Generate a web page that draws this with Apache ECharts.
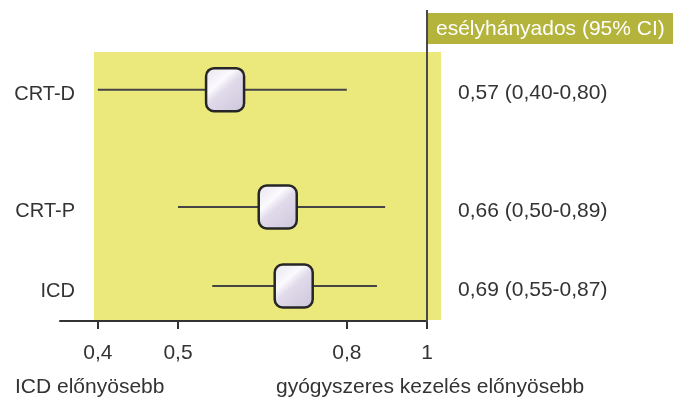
<!DOCTYPE html>
<html>
<head>
<meta charset="utf-8">
<script src="https://cdn.jsdelivr.net/npm/echarts@6/dist/echarts.min.js"></script>
<style>
  html, body { margin: 0; padding: 0; background: #ffffff; }
  #chart { width: 673px; height: 401px; }
</style>
</head>
<body>
<div id="chart"></div>
<script>
// Forest plot: odds ratios with 95% confidence intervals (log scale)
const categories = ['CRT-D', 'CRT-P', 'ICD'];
const oddsRatio = [0.57, 0.66, 0.69];
const ciLower = [0.40, 0.50, 0.55];
const ciUpper = [0.80, 0.89, 0.87];
const tickValues = [0.4, 0.5, 0.8, 1];

// Vertical placement of each row on a 0..100 band
const rowPos = [14, 57.6, 87];

const FONT = '"Liberation Sans", Arial, Helvetica, sans-serif';
const fmt = v => v.toFixed(2).replace('.', ',');

const rows = categories.map((name, i) => [oddsRatio[i], ciLower[i], ciUpper[i], rowPos[i], i]);

const chart = echarts.init(document.getElementById('chart'), null, { renderer: 'canvas' });

const option = {
  animation: false,
  backgroundColor: '#ffffff',
  grid: { left: 60, right: 246, top: 52, bottom: 80 },
  xAxis: {
    type: 'log',
    logBase: 10,
    min: 0.36,
    max: 1,
    position: 'bottom',
    axisLine: { show: true, onZero: false, lineStyle: { color: '#333333', width: 2 } },
    axisTick: { show: true, length: 8, lineStyle: { color: '#333333', width: 2 }, customValues: tickValues },
    axisLabel: {
      customValues: tickValues,
      margin: 22,
      color: '#333333',
      fontFamily: FONT,
      fontSize: 21,
      formatter: v => String(v).replace('.', ',')
    },
    splitLine: { show: false },
    minorTick: { show: false }
  },
  yAxis: { type: 'value', min: 0, max: 100, inverse: true, show: false },
  series: [{
    type: 'custom',
    data: rows,
    encode: { x: [0, 1, 2], y: 3 },
    clip: false,
    z: 5,
    renderItem: function (params, api) {
      const i = api.value(4);
      const pOr = api.coord([api.value(0), api.value(3)]);
      const pLo = api.coord([api.value(1), api.value(3)]);
      const pHi = api.coord([api.value(2), api.value(3)]);
      const bw = 38, bh = 43;
      return {
        type: 'group',
        children: [
          {
            type: 'line',
            shape: { x1: pLo[0], y1: pLo[1], x2: pHi[0], y2: pHi[1] },
            style: { stroke: '#444444', lineWidth: 2 }
          },
          {
            type: 'rect',
            shape: { x: pOr[0] - bw / 2, y: pOr[1] - bh / 2, width: bw, height: bh, r: 8 },
            style: {
              fill: new echarts.graphic.LinearGradient(0, 0, 1, 1, [
                { offset: 0, color: '#e6e2ee' },
                { offset: 0.35, color: '#fbfafd' },
                { offset: 0.5, color: '#e0daea' },
                { offset: 1, color: '#cdc6dc' }
              ]),
              stroke: '#262626',
              lineWidth: 2.5
            }
          },
          {
            type: 'text',
            x: 75,
            y: pOr[1] + 5,
            style: {
              text: categories[i],
              fontFamily: FONT,
              fontSize: 20,
              fill: '#333333',
              align: 'right',
              verticalAlign: 'middle'
            }
          },
          {
            type: 'text',
            x: 458,
            y: pOr[1] + 4,
            style: {
              text: fmt(oddsRatio[i]) + ' (' + fmt(ciLower[i]) + '-' + fmt(ciUpper[i]) + ')',
              fontFamily: FONT,
              fontSize: 21,
              fill: '#333333',
              align: 'left',
              verticalAlign: 'middle'
            }
          }
        ]
      };
    }
  }]
};

chart.setOption(option);

// Background panel, reference line at OR = 1, header and direction captions
const xOne = chart.convertToPixel({ xAxisIndex: 0 }, 1);
chart.setOption({
  graphic: [
    {
      type: 'rect', z: -10, silent: true,
      shape: { x: 94, y: 52, width: 347, height: 268 },
      style: { fill: '#ece97c' }
    },
    {
      type: 'rect', z: 1, silent: true,
      shape: { x: xOne + 1, y: 13, width: 673 - xOne - 1, height: 31 },
      style: { fill: '#b4b33c' }
    },
    {
      type: 'text', z: 2, silent: true,
      x: xOne + 9, y: 29,
      style: {
        text: 'esélyhányados (95% CI)',
        fontFamily: FONT, fontSize: 21, fill: '#ffffff',
        align: 'left', verticalAlign: 'middle'
      }
    },
    {
      type: 'line', z: 3, silent: true,
      shape: { x1: xOne, y1: 10, x2: xOne, y2: 322 },
      style: { stroke: '#4a4a4a', lineWidth: 2 }
    },
    {
      type: 'text', silent: true,
      x: 15, y: 387,
      style: {
        text: 'ICD előnyösebb',
        fontFamily: FONT, fontSize: 21, fill: '#333333',
        align: 'left', verticalAlign: 'middle'
      }
    },
    {
      type: 'text', silent: true,
      x: 276, y: 387,
      style: {
        text: 'gyógyszeres kezelés előnyösebb',
        fontFamily: FONT, fontSize: 21, fill: '#333333',
        align: 'left', verticalAlign: 'middle'
      }
    }
  ]
});
</script>
</body>
</html>
